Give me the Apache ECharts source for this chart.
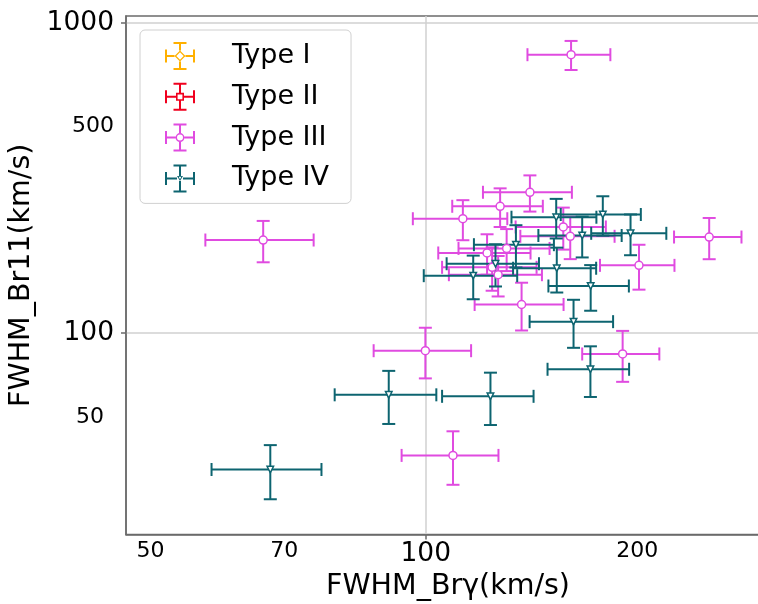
<!DOCTYPE html>
<html>
<head>
<meta charset="utf-8">
<script src="https://cdn.jsdelivr.net/npm/echarts@6/dist/echarts.min.js"></script>
<style>
  html, body { margin: 0; padding: 0; background: #ffffff; }
  #chart { width: 758px; height: 604px; }
</style>
</head>
<body>
<div id="chart"></div>
<script>
// Line-profile classes
const typeNames = ['Type I', 'Type II', 'Type III', 'Type IV'];
const typeColors = ['#ffb000', '#f0001e', '#e04be0', '#0d6470'];

// Type I and Type II: no measured sources
const type1Brg = [], type1BrgErr = [], type1Br11 = [], type1Br11Err = [];
const type2Brg = [], type2BrgErr = [], type2Br11 = [], type2Br11Err = [];

// Type III: FWHM (km/s) of Br-gamma and Br11 with 1-sigma errors
const type3Brg    = [144.2, 66.4, 130.0, 120.6, 109.8, 141.4, 143.9, 116.7, 122.6, 118.2, 120.0, 171.1, 127.3, 204.2, 99.9, 164.2, 107.1];
const type3BrgErr = [15.0, 9.0, 14.5, 13.7, 13.0, 16.0, 17.0, 13.5, 14.0, 14.0, 14.0, 16.0, 14.2, 17.3, 12.2, 15.9, 13.0];
const type3Br11    = [790, 199.5, 284.4, 256.3, 233.7, 219.8, 205.1, 181.2, 187.4, 162.9, 154.2, 165.3, 123.6, 204.0, 87.7, 85.6, 40.3];
const type3Br11Err = [85, 30.4, 38, 36.5, 34.5, 34, 32, 27, 29, 26, 23, 27.3, 21.7, 31, 16.3, 16, 7.9];

// Type IV
const type4Brg    = [138.9, 156.2, 148.3, 167.5, 125.5, 119.2, 112.7, 139.1, 151.5, 145.1, 151.4, 117.7, 91.1, 67.6];
const type4BrgErr = [14.8, 15.7, 15.5, 15.8, 12.6, 13.8, 13.2, 14.5, 15.3, 15.2, 15.5, 13.5, 11.6, 9.3];
const type4Br11    = [236.3, 241.1, 206.3, 209.7, 192.7, 167.3, 153.1, 161.8, 141.8, 108.8, 76.4, 62.5, 63.2, 36.3];
const type4Br11Err = [34.5, 35, 31, 31.5, 30, 26, 24.6, 26.7, 23.8, 19.2, 14.2, 12, 12.3, 7.2];

// Axis tick labels
const xTickValues = [50, 70, 100, 170.4];
const xTickText   = ['50', '70', '100', '200'];
const xTickMajor  = [false, false, true, false];
const yTickValues = [1000, 465, 100, 53.6];
const yTickText   = ['1000', '500', '100', '50'];
const yTickMajor  = [true, false, true, false];

const FONT = 'DejaVu Sans';
const AXIS_GRAY = '#6b6b6b';

function rows(xs, xe, ys, ye) {
  return xs.map((x, i) => [x, ys[i], xe[i], ye[i]]);
}
const typeData = [
  rows(type1Brg, type1BrgErr, type1Br11, type1Br11Err),
  rows(type2Brg, type2BrgErr, type2Br11, type2Br11Err),
  rows(type3Brg, type3BrgErr, type3Br11, type3Br11Err),
  rows(type4Brg, type4BrgErr, type4Br11, type4Br11Err)
];

// index of the tick whose value is nearest to v (in log space)
function tickIndex(values, v) {
  let best = 0, bestD = Infinity;
  values.forEach((t, i) => {
    const d = Math.abs(Math.log(t) - Math.log(v));
    if (d < bestD) { bestD = d; best = i; }
  });
  return best;
}
function tickFormatter(values, text, major, shiftIdx) {
  return function (v) {
    const i = tickIndex(values, v);
    const style = major[i] ? 'big' : (i === shiftIdx ? 'shift' : 'small');
    return '{' + style + '|' + text[i] + '}';
  };
}

// Error-bar cross with caps, drawn through the axis scales
function errorBarRenderer(color) {
  const CAP = 6.5;
  return function (params, api) {
    const x = api.value(0), y = api.value(1), ex = api.value(2), ey = api.value(3);
    const c = api.coord([x, y]);
    const l = api.coord([x - ex, y]);
    const r = api.coord([x + ex, y]);
    const t = api.coord([x, y + ey]);
    const b = api.coord([x, y - ey]);
    const seg = (x1, y1, x2, y2) => ({
      type: 'line',
      shape: { x1, y1, x2, y2 },
      style: { stroke: color, lineWidth: 2, fill: null }
    });
    return {
      type: 'group',
      children: [
        seg(l[0], c[1], r[0], c[1]),
        seg(c[0], t[1], c[0], b[1]),
        seg(l[0], c[1] - CAP, l[0], c[1] + CAP),
        seg(r[0], c[1] - CAP, r[0], c[1] + CAP),
        seg(c[0] - CAP, t[1], c[0] + CAP, t[1]),
        seg(c[0] - CAP, b[1], c[0] + CAP, b[1])
      ]
    };
  };
}

// Legend glyphs: error-bar cross with a hollow marker in the middle (30 x 28 box)
function rect(x0, y0, x1, y1) {
  return 'M' + x0 + ' ' + y0 + 'H' + x1 + 'V' + y1 + 'H' + x0 + 'Z';
}
function crossPath(gapL, gapR, gapT, gapB) {
  return rect(0, 13, gapL, 15) + rect(gapR, 13, 30, 15) +
         rect(14, 0, 16, gapT) + rect(14, gapB, 16, 28) +
         rect(0, 7.5, 2, 20.5) + rect(28, 7.5, 30, 20.5) +
         rect(8.5, 0, 21.5, 2) + rect(8.5, 26, 21.5, 28);
}
const legendIcons = [
  // diamond
  'path://' + crossPath(9.5, 20.5, 8.5, 19.5) +
    'M15 8.5L20.5 14L15 19.5L9.5 14Z' + 'M15 10.3L11.3 14L15 17.7L18.7 14Z',
  // square
  'path://' + crossPath(11, 19, 10, 18) +
    rect(11, 10, 19, 18) + 'M12.6 11.6V16.4H17.4V11.6Z',
  // circle
  'path://' + crossPath(10.5, 19.5, 9.5, 18.5) +
    'M19.5 14A4.5 4.5 0 1 1 10.5 14A4.5 4.5 0 1 1 19.5 14Z' +
    'M18 14A3 3 0 1 0 12 14A3 3 0 1 0 18 14Z',
  // triangle down
  'path://' + crossPath(12, 18, 11.5, 16.5) +
    'M12 11.5L18 11.5L15 16.5Z' + 'M13.6 12.4L15 14.8L16.4 12.4Z'
];
const markerSymbols = ['diamond', 'rect', 'circle', 'triangle'];
const markerSizes = [10, 8, 8, 6.5];
const markerRotate = [0, 0, 0, 180];

const series = [];
typeNames.forEach((name, i) => {
  series.push({
    name: name,
    type: 'custom',
    renderItem: errorBarRenderer(typeColors[i]),
    itemStyle: { color: typeColors[i] },
    encode: { x: 0, y: 1 },
    data: typeData[i],
    silent: true,
    animation: false,
    z: 2
  });
  series.push({
    name: name,
    type: 'scatter',
    symbol: markerSymbols[i],
    symbolSize: markerSizes[i],
    symbolRotate: markerRotate[i],
    itemStyle: { color: '#ffffff', borderColor: typeColors[i], borderWidth: 1.5, opacity: 1 },
    data: typeData[i].map(d => [d[0], d[1]]),
    silent: true,
    animation: false,
    z: 2
  });
});

const chart = echarts.init(document.getElementById('chart'), null, { renderer: 'canvas' });
chart.setOption({
  animation: false,
  backgroundColor: '#ffffff',
  textStyle: { fontFamily: FONT },
  grid: {
    left: 126, right: -12, top: 16, bottom: 69.5,
    outerBoundsMode: 'none',
    containLabel: false,
    show: true, borderColor: AXIS_GRAY, borderWidth: 1.5, backgroundColor: 'transparent'
  },
  legend: {
    orient: 'vertical',
    left: 140, top: 30,
    padding: [12, 22, 11, 25],
    itemWidth: 30, itemHeight: 28, itemGap: 12.8,
    backgroundColor: '#ffffff',
    borderColor: '#d0d0d0', borderWidth: 1, borderRadius: 5,
    selectedMode: false,
    textStyle: { fontFamily: FONT, fontSize: 27, color: '#000000', lineHeight: 28, padding: [0, 0, 0, 32] },
    data: typeNames.map((n, i) => ({
      name: n,
      icon: legendIcons[i],
      itemStyle: { color: typeColors[i], borderWidth: 0 }
    }))
  },
  xAxis: {
    type: 'log', logBase: 10, min: 47, max: 238,
    name: 'FWHM_Brγ(km/s)', nameLocation: 'middle', nameGap: 37,
    nameTextStyle: { fontFamily: FONT, fontSize: 28.5, color: '#000000' },
    axisLine: { show: true, lineStyle: { color: AXIS_GRAY, width: 1.5 } },
    axisTick: { show: true, customValues: [100], length: 5, lineStyle: { color: AXIS_GRAY, width: 1.5 } },
    splitLine: { show: true, lineStyle: { color: '#d0d0d0', width: 1.5 } },
    minorTick: { show: false }, minorSplitLine: { show: false },
    axisLabel: {
      customValues: xTickValues,
      margin: 6,
      color: '#000000',
      fontFamily: FONT,
      formatter: tickFormatter(xTickValues, xTickText, xTickMajor, -1),
      rich: {
        big: { fontFamily: FONT, fontSize: 26.5, color: '#000000' },
        small: { fontFamily: FONT, fontSize: 22, color: '#000000' }
      }
    }
  },
  yAxis: {
    type: 'log', logBase: 10, min: 22.4, max: 1053,
    name: 'FWHM_Br11(km/s)', nameLocation: 'middle', nameGap: 78, nameRotate: 90,
    nameTextStyle: { fontFamily: FONT, fontSize: 28.5, color: '#000000' },
    axisLine: { show: true, lineStyle: { color: AXIS_GRAY, width: 1.5 } },
    axisTick: { show: true, customValues: [100, 1000], length: 5, lineStyle: { color: AXIS_GRAY, width: 1.5 } },
    splitLine: { show: true, lineStyle: { color: '#d0d0d0', width: 1.5 } },
    minorTick: { show: false }, minorSplitLine: { show: false },
    axisLabel: {
      customValues: yTickValues,
      margin: 12,
      color: '#000000',
      fontFamily: FONT,
      formatter: tickFormatter(yTickValues, yTickText, yTickMajor, 3),
      rich: {
        big: { fontFamily: FONT, fontSize: 26.5, color: '#000000' },
        small: { fontFamily: FONT, fontSize: 22, color: '#000000' },
        shift: { fontFamily: FONT, fontSize: 22, color: '#000000', padding: [0, 10, 0, 0] }
      }
    }
  },
  series: series
});
</script>
</body>
</html>
